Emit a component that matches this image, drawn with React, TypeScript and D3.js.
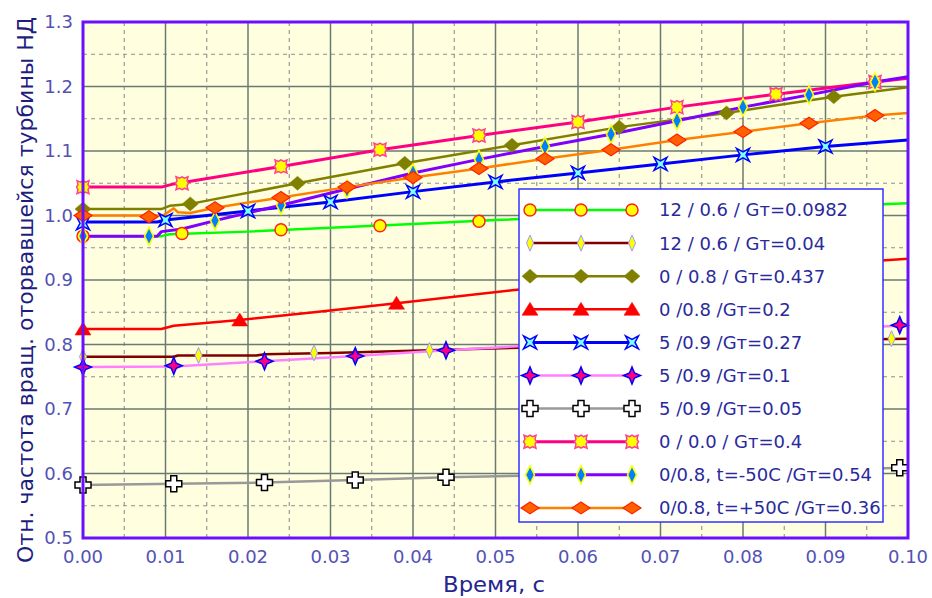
import React from "react";
import * as d3 from "d3";

type P = [number, number];

// ---------- data ----------
const seriesNames: string[] = [
  "12 / 0.6 / Gт=0.0982",
  "12 / 0.6 / Gт=0.04",
  "0 / 0.8 / Gт=0.437",
  "0 /0.8 /Gт=0.2",
  "5 /0.9 /Gт=0.27",
  "5 /0.9 /Gт=0.1",
  "5 /0.9 /Gт=0.05",
  "0 / 0.0 / Gт=0.4",
  "0/0.8, t=-50C /Gт=0.54",
  "0/0.8, t=+50C /Gт=0.36",
];

const line1: P[] = [[0, 0.968], [0.0095, 0.968], [0.0105, 0.971], [0.02, 0.975], [0.03, 0.981], [0.04, 0.987], [0.05, 0.993], [0.06, 0.998], [0.07, 1.003], [0.08, 1.008], [0.09, 1.014], [0.1, 1.019]];
const marks1: P[] = [[0, 0.968], [0.012, 0.972], [0.024, 0.978], [0.036, 0.984], [0.048, 0.991], [0.06, 0.998], [0.072, 1.004], [0.084, 1.011], [0.096, 1.017]];

const line2: P[] = [[0, 0.781], [0.011, 0.781], [0.0115, 0.783], [0.021, 0.783], [0.022, 0.785], [0.03, 0.787], [0.042, 0.791], [0.053, 0.795], [0.06, 0.798], [0.07, 0.801], [0.08, 0.804], [0.09, 0.807], [0.1, 0.809]];
const marks2: P[] = [[0, 0.781], [0.014, 0.783], [0.028, 0.787], [0.042, 0.791], [0.056, 0.796], [0.07, 0.801], [0.084, 0.805], [0.098, 0.809]];

const line3: P[] = [[0, 1.01], [0.0095, 1.01], [0.0105, 1.015], [0.013, 1.018], [0.026, 1.05], [0.039, 1.081], [0.052, 1.109], [0.065, 1.137], [0.078, 1.159], [0.091, 1.184], [0.1, 1.199]];
const marks3: P[] = [[0, 1.01], [0.013, 1.018], [0.026, 1.05], [0.039, 1.081], [0.052, 1.109], [0.065, 1.137], [0.078, 1.159], [0.091, 1.184]];

const line4: P[] = [[0, 0.824], [0.0095, 0.824], [0.011, 0.829], [0.019, 0.838], [0.028, 0.85], [0.038, 0.864], [0.052, 0.884], [0.065, 0.9], [0.08, 0.916], [0.1, 0.933]];
const marks4: P[] = [[0, 0.824], [0.019, 0.838], [0.038, 0.864], [0.057, 0.891], [0.076, 0.912], [0.095, 0.929]];

const line5: P[] = [[0, 0.99], [0.009, 0.99], [0.01, 0.993], [0.02, 1.007], [0.03, 1.021], [0.04, 1.037], [0.05, 1.052], [0.06, 1.066], [0.07, 1.08], [0.08, 1.094], [0.09, 1.107], [0.1, 1.117]];
const marks5: P[] = [[0, 0.988], [0.01, 0.993], [0.02, 1.007], [0.03, 1.021], [0.04, 1.037], [0.05, 1.052], [0.06, 1.066], [0.07, 1.08], [0.08, 1.094], [0.09, 1.107]];

const line6: P[] = [[0, 0.765], [0.011, 0.766], [0.022, 0.774], [0.033, 0.782], [0.044, 0.791], [0.055, 0.799], [0.066, 0.806], [0.077, 0.814], [0.088, 0.822], [0.1, 0.83]];
const marks6: P[] = [[0, 0.765], [0.011, 0.767], [0.022, 0.774], [0.033, 0.782], [0.044, 0.791], [0.055, 0.799], [0.066, 0.806], [0.077, 0.814], [0.088, 0.822], [0.099, 0.83]];

const line7: P[] = [[0, 0.582], [0.011, 0.584], [0.022, 0.586], [0.033, 0.59], [0.044, 0.594], [0.055, 0.597], [0.066, 0.6], [0.077, 0.603], [0.088, 0.606], [0.1, 0.609]];
const marks7: P[] = [[0, 0.582], [0.011, 0.584], [0.022, 0.586], [0.033, 0.59], [0.044, 0.594], [0.055, 0.597], [0.066, 0.6], [0.077, 0.603], [0.088, 0.606], [0.099, 0.609]];

const line8: P[] = [[0, 1.044], [0.0095, 1.044], [0.011, 1.049], [0.024, 1.076], [0.036, 1.102], [0.048, 1.124], [0.06, 1.145], [0.072, 1.168], [0.084, 1.188], [0.096, 1.207], [0.1, 1.213]];
const marks8: P[] = [[0, 1.044], [0.012, 1.05], [0.024, 1.076], [0.036, 1.102], [0.048, 1.124], [0.06, 1.145], [0.072, 1.168], [0.084, 1.188], [0.096, 1.207]];

const line9: P[] = [[0, 0.968], [0.009, 0.968], [0.0095, 0.975], [0.012, 0.979], [0.016, 0.992], [0.024, 1.016], [0.032, 1.041], [0.04, 1.066], [0.048, 1.087], [0.056, 1.107], [0.064, 1.126], [0.072, 1.147], [0.08, 1.168], [0.088, 1.187], [0.096, 1.207], [0.1, 1.215]];
const marks9: P[] = [[0, 0.968], [0.008, 0.968], [0.016, 0.992], [0.024, 1.016], [0.032, 1.041], [0.04, 1.066], [0.048, 1.087], [0.056, 1.107], [0.064, 1.126], [0.072, 1.147], [0.08, 1.168], [0.088, 1.187], [0.096, 1.207]];

const line10: P[] = [[0, 1.0], [0.0097, 1.0], [0.011, 1.011], [0.0115, 1.005], [0.013, 1.004], [0.016, 1.012], [0.024, 1.028], [0.032, 1.044], [0.04, 1.059], [0.048, 1.073], [0.056, 1.088], [0.064, 1.102], [0.072, 1.117], [0.08, 1.13], [0.088, 1.143], [0.096, 1.155], [0.1, 1.159]];
const marks10: P[] = [[0, 1.0], [0.008, 0.998], [0.016, 1.012], [0.024, 1.028], [0.032, 1.044], [0.04, 1.059], [0.048, 1.073], [0.056, 1.088], [0.064, 1.102], [0.072, 1.117], [0.08, 1.13], [0.088, 1.143], [0.096, 1.155]];

const seriesLines: P[][] = [line1, line2, line3, line4, line5, line6, line7, line8, line9, line10];
const seriesMarks: P[][] = [marks1, marks2, marks3, marks4, marks5, marks6, marks7, marks8, marks9, marks10];

const xTicks: number[] = [0, 0.01, 0.02, 0.03, 0.04, 0.05, 0.06, 0.07, 0.08, 0.09, 0.1];
const yTicks: number[] = [0.5, 0.6, 0.7, 0.8, 0.9, 1.0, 1.1, 1.2, 1.3];
const xMinor: number[] = [0.005, 0.015, 0.025, 0.035, 0.045, 0.055, 0.065, 0.075, 0.085, 0.095];
const yMinor: number[] = [0.55, 0.65, 0.75, 0.85, 0.95, 1.05, 1.15, 1.25];

const xTitle = "Время, с";
const yTitle = "Отн. частота вращ. оторвавшейся турбины НД";

// ---------- styles ----------
type Sty = { color: string; width: number; shape: string; fill: string; stroke: string; sw: number };
const styles: Sty[] = [
  { color: "#00ff00", width: 2.5, shape: "circle", fill: "#ffff00", stroke: "#ff2020", sw: 1.5 },
  { color: "#800000", width: 2.5, shape: "thinDiamond", fill: "#ffff00", stroke: "#9a9aff", sw: 1 },
  { color: "#808000", width: 2.5, shape: "diamond", fill: "#808000", stroke: "#808000", sw: 0.5 },
  { color: "#ff0000", width: 2.5, shape: "triangle", fill: "#ff0000", stroke: "#ff0000", sw: 0.5 },
  { color: "#0000ff", width: 3, shape: "xstar", fill: "#80ffff", stroke: "#0000ff", sw: 1.5 },
  { color: "#ff80ff", width: 2.5, shape: "star4", fill: "#ff0080", stroke: "#0000ff", sw: 1.5 },
  { color: "#999999", width: 2.5, shape: "plus", fill: "#ffffff", stroke: "#000000", sw: 1.5 },
  { color: "#ff0080", width: 3, shape: "blob", fill: "#ffff00", stroke: "#ff4090", sw: 1.5 },
  { color: "#8000ff", width: 3, shape: "tallDiamond", fill: "#0080ff", stroke: "#ffff00", sw: 1.5 },
  { color: "#ff8000", width: 2.5, shape: "wideDiamond", fill: "#ff6000", stroke: "#ff2000", sw: 1.2 },
];

const shapePath: Record<string, string> = {
  circle: "M-6,0A6,6 0 1,0 6,0A6,6 0 1,0 -6,0Z",
  thinDiamond: "M0,-8L3.5,0L0,8L-3.5,0Z",
  diamond: "M0,-7L8,0L0,7L-8,0Z",
  triangle: "M0,-7L8,6L-8,6Z",
  xstar: "M-6.5,-6.5L0,-3L6.5,-6.5L3,0L6.5,6.5L0,3L-6.5,6.5L-3,0Z",
  star4: "M0,-8.5L2.5,-2.5L8.5,0L2.5,2.5L0,8.5L-2.5,2.5L-8.5,0L-2.5,-2.5Z",
  plus: "M-3,-8H3V-3H8V3H3V8H-3V3H-8V-3H-3Z",
  blob: "M-6,-6.5L-2.5,-5L0,-6.5L2.5,-5L6,-6.5L5,-2.5L6.5,0L5,2.5L6,6.5L2.5,5L0,6.5L-2.5,5L-6,6.5L-5,2.5L-6.5,0L-5,-2.5Z",
  tallDiamond: "M0,-9L4.5,0L0,9L-4.5,0Z",
  wideDiamond: "M0,-6L9,0L0,6L-9,0Z",
};

const W = 932;
const H = 598;
const L = 83, R = 908, T = 22, B = 538;

export default function App() {
  const x = d3.scaleLinear().domain([0, 0.1]).range([L, R]);
  const y = d3.scaleLinear().domain([0.5, 1.3]).range([B, T]);
  const lineGen = d3.line<P>().x((d) => x(d[0])).y((d) => y(d[1]));

  const legX = 519, legY = 189, legW = 364, legH = 333;
  const rowH = 33.1;
  const font = "'DejaVu Sans', Verdana, sans-serif";

  return (
    <svg width={W} height={H} style={{ position: "absolute", left: 0, top: 0, background: "#fff" }}>
      <defs>
        <clipPath id="plotclip">
          <rect x={L} y={T} width={R - L} height={B - T} />
        </clipPath>
      </defs>
      <rect x={L} y={T} width={R - L} height={B - T} fill="#ffffe0" />
      {/* minor grid */}
      {xMinor.map((v) => (
        <line key={"xm" + v} x1={x(v)} x2={x(v)} y1={T} y2={B} stroke="#909090" strokeWidth={1.1} strokeDasharray="4,4" />
      ))}
      {yMinor.map((v) => (
        <line key={"ym" + v} x1={L} x2={R} y1={y(v)} y2={y(v)} stroke="#909090" strokeWidth={1.1} strokeDasharray="4,4" />
      ))}
      {/* major grid */}
      {xTicks.map((v) => (
        <line key={"xg" + v} x1={x(v)} x2={x(v)} y1={T} y2={B} stroke="#6a7a72" strokeWidth={1.5} />
      ))}
      {yTicks.map((v) => (
        <line key={"yg" + v} x1={L} x2={R} y1={y(v)} y2={y(v)} stroke="#6a7a72" strokeWidth={1.5} />
      ))}

      <g clipPath="url(#plotclip)">
        {seriesLines.map((pts, i) => (
          <path key={"l" + i} d={lineGen(pts) || ""} fill="none" stroke={styles[i].color} strokeWidth={styles[i].width} strokeLinejoin="round" />
        ))}
      </g>
      <g>
        {seriesMarks.map((pts, i) =>
          pts.map((p, j) => (
            <path
              key={"m" + i + "_" + j}
              d={shapePath[styles[i].shape]}
              transform={`translate(${x(p[0])},${y(p[1])})`}
              fill={styles[i].fill}
              stroke={styles[i].stroke}
              strokeWidth={styles[i].sw}
            />
          ))
        )}
      </g>

      {/* frame */}
      <rect x={L} y={T} width={R - L} height={B - T} fill="none" stroke="#6a10ff" strokeWidth={3} />

      {/* legend */}
      <rect x={legX} y={legY} width={legW} height={legH} fill="#ffffff" stroke="#3030ff" strokeWidth={1.5} />
      {seriesNames.map((name, i) => {
        const cy = legY + 21 + i * rowH;
        const st = styles[i];
        return (
          <g key={"lg" + i}>
            <line x1={530} x2={632} y1={cy} y2={cy} stroke={st.color} strokeWidth={st.width} />
            {[530, 581, 632].map((mx) => (
              <path key={mx} d={shapePath[st.shape]} transform={`translate(${mx},${cy})`} fill={st.fill} stroke={st.stroke} strokeWidth={st.sw} />
            ))}
            <text x={659} y={cy} dy="0.36em" fontFamily={font} fontSize={18} fill="#2a2a9c">
              {name}
            </text>
          </g>
        );
      })}

      {/* tick labels */}
      {xTicks.map((v) => (
        <text key={"xt" + v} x={x(v)} y={563} textAnchor="middle" fontFamily={font} fontSize={18} fill="#5252b4">
          {v.toFixed(2)}
        </text>
      ))}
      {yTicks.map((v) => (
        <text key={"yt" + v} x={73} y={y(v)} dy="0.36em" textAnchor="end" fontFamily={font} fontSize={18} fill="#5252b4">
          {v.toFixed(1)}
        </text>
      ))}

      {/* axis titles */}
      <text x={494} y={592} textAnchor="middle" fontFamily={font} fontSize={22} fill="#25258f" textLength={102} lengthAdjust="spacingAndGlyphs">
        {xTitle}
      </text>
      <text
        transform="translate(33,290) rotate(-90)"
        textAnchor="middle"
        fontFamily={font}
        fontSize={21}
        fill="#1e1e80"
        textLength={546}
        lengthAdjust="spacingAndGlyphs"
      >
        {yTitle}
      </text>
    </svg>
  );
}
